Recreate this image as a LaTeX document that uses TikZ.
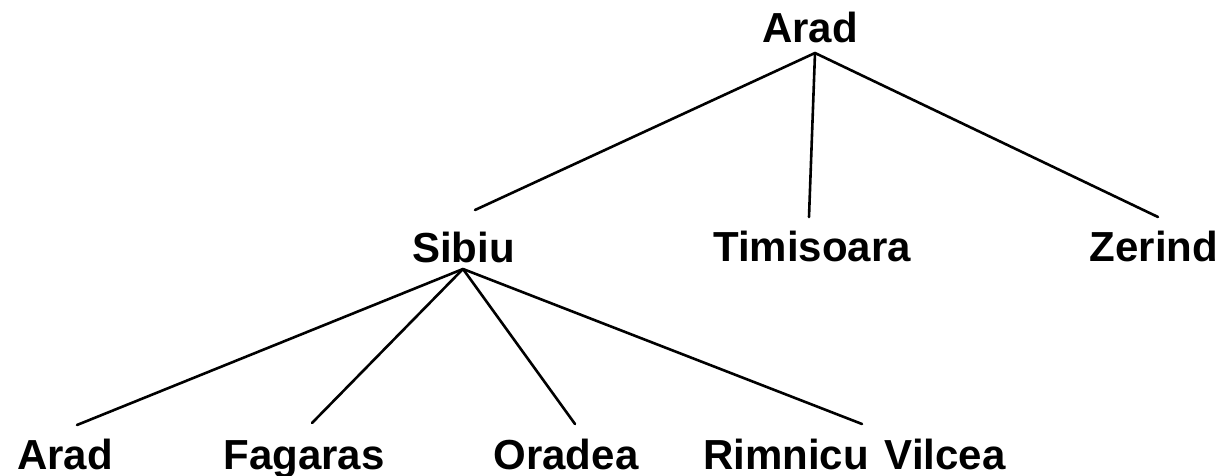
\documentclass[tikz,border=0pt]{standalone}
\usepackage{fontspec}
\setmainfont{Liberation Sans}
\begin{document}
\begin{tikzpicture}[x=1pt,y=-1pt,
  city/.style={anchor=base,inner sep=0pt,font=\fontsize{42}{50}\selectfont\bfseries},
  edge/.style={line width=2.6pt,line cap=round}]
\useasboundingbox (0,0) rectangle (1232,476);
% tree nodes
\node[city] (arad)  at (810,43)   {Arad};
\node[city] (sibiu) at (463.5,262) {Sibiu};
\node[city] (timi)  at (812,261)  {Timisoara};
\node[city] (zer)   at (1154,261) {Zerind};
\node[city] (arad2) at (65,469)   {Arad};
\node[city] (fag)   at (304,469)  {Fagaras};
\node[city] (ora)   at (566,469)  {Oradea};
\node[city,anchor=base west] (rim) at (703,469) {Rimnicu\hspace{0.38em}Vilcea};
% branch points below the parents
\coordinate (aradj)  at ([shift={(5,10)}]arad.base);
\coordinate (sibiuj) at ([shift={(-0.5,7)}]sibiu.base);
% edges
\draw[edge] (aradj) -- ([shift={(11.5,-52)}]sibiu.base);
\draw[edge] (aradj) -- ([shift={(-3,-44)}]timi.base);
\draw[edge] (aradj) -- ([shift={(4,-44)}]zer.base);
\draw[edge] (sibiuj) -- ([shift={(12,-44)}]arad2.base);
\draw[edge] (sibiuj) -- ([shift={(8,-46)}]fag.base);
\draw[edge] (sibiuj) -- ([shift={(9,-45)}]ora.base);
\draw[edge] (sibiuj) -- ([shift={(159,-45)}]rim.base west);
\end{tikzpicture}
\end{document}
